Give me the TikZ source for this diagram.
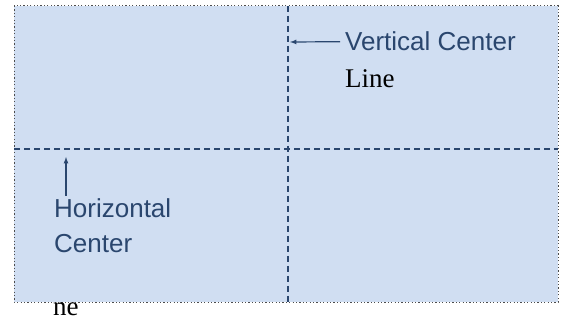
\documentclass[tikz,border=0pt]{standalone}
\usepackage{fontspec}
\setmainfont{Liberation Serif}
\newfontfamily\labelfont{Liberation Sans}
\usepackage{xcolor}
\usepackage{tikz}
\usetikzlibrary{arrows}
\definecolor{panelblue}{RGB}{208,222,242}
\definecolor{lineblue}{RGB}{42,70,110}
\tikzset{
	centerline/.style={lineblue,line width=1.2pt,dash pattern=on 6pt off 4pt},
	bluelabel/.style={anchor=base west,inner sep=0pt,text=lineblue,font=\labelfont\fontsize{26}{30}\selectfont},
	blacklabel/.style={anchor=base west,inner sep=0pt,font=\fontsize{27}{30}\selectfont},
	pointer/.style={-latex,lineblue,line width=1.2pt}
}
\begin{document}
\begin{tikzpicture}[x=1pt,y=-1pt]
		\useasboundingbox (0,0) rectangle (562,320);
		\fill[panelblue] (14,6) rectangle (558,302);
		\draw[gray!60!black,line width=1pt,dash pattern=on 1.2pt off 2.2pt] (14,6) rectangle (558,302);
		% center lines
		\draw[centerline] (288,6) -- (288,302);
		\draw[centerline] (14,149) -- (558,149);
		\coordinate (vtip) at (290,42);
		\coordinate (htip) at (66,157);
		% labels
		\node[bluelabel] (vlabel) at (345,51) {Vertical Center};
		\node[blacklabel] (vline) at (345,88) {Line};
		\node[bluelabel] (hlabel) at (54,218) {Horizontal};
		\node[bluelabel] (hcenter) at (54,253) {Center};
		\node[blacklabel] (hline) at (53,315) {ne};
		\draw[pointer] ([xshift=-5pt]vlabel.west) -- (vtip);
		\draw[pointer] ([xshift=12pt,yshift=3pt]hlabel.north west) -- (htip);
	\end{tikzpicture}
\end{document}
